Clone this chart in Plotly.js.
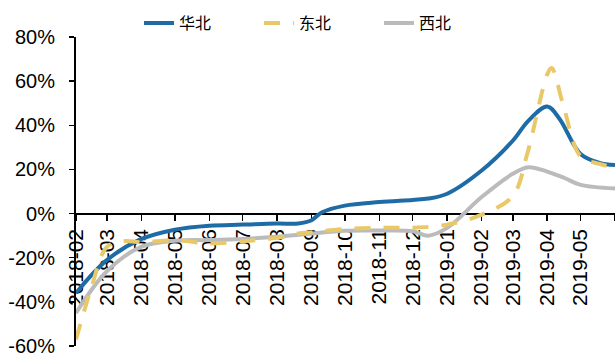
<!DOCTYPE html>
<html>
<head>
<meta charset="utf-8">
<script src="https://cdn.plot.ly/plotly-3.0.1.min.js"></script>
<style>html,body{margin:0;padding:0;background:#fff;}#chart{width:615px;height:356px;}</style>
</head>
<body>
<div id="chart"></div>
<script>
const seriesNames = ['华北', '东北', '西北'];

const northDates = ['2018-02-01','2018-03-01','2018-04-01','2018-05-01','2018-06-01','2018-07-01','2018-08-01','2018-08-20','2018-09-01','2018-09-10','2018-10-01','2018-11-01','2018-12-01','2018-12-15','2019-01-01','2019-02-01','2019-03-01','2019-03-15','2019-04-01','2019-04-12','2019-05-01','2019-05-18','2019-06-01'];
const northValues = [-36,-21,-11.5,-7.3,-5.5,-5,-4.5,-4.5,-3,0.5,3.6,5.2,6.2,6.8,9,19.5,33,42,48.5,43,27,23,22];

const northeastDates = ['2018-02-01','2018-02-14','2018-03-01','2018-03-16','2018-04-01','2018-05-01','2018-06-01','2018-07-01','2018-08-01','2018-08-20','2018-09-01','2018-10-01','2018-11-01','2018-12-01','2019-01-01','2019-02-01','2019-03-01','2019-03-14','2019-04-01','2019-04-05','2019-04-15','2019-05-01','2019-05-18','2019-06-01'];
const northeastValues = [-57,-35,-15,-12.5,-13,-12,-13.5,-12.5,-11,-9,-8.5,-7,-6.4,-6.4,-5,-0.5,8,27,63,66,50,26,22.5,21];

const northwestDates = ['2018-02-01','2018-03-01','2018-04-01','2018-05-01','2018-06-01','2018-07-01','2018-08-01','2018-09-01','2018-10-01','2018-11-01','2018-12-01','2018-12-15','2019-01-01','2019-02-01','2019-03-01','2019-03-15','2019-04-01','2019-04-17','2019-05-01','2019-06-01'];
const northwestValues = [-45,-26,-15,-12.3,-12,-11.5,-10.5,-9,-7.8,-7.7,-8,-10,-6.5,7.5,18,21,19,16,13,11.4];

const tickDates = ['2018-02-01','2018-03-01','2018-04-01','2018-05-01','2018-06-01','2018-07-01','2018-08-01','2018-09-01','2018-10-01','2018-11-01','2018-12-01','2019-01-01','2019-02-01','2019-03-01','2019-04-01','2019-05-01','2019-06-01'];
const tickLabels = ['2018-02','2018-03','2018-04','2018-05','2018-06','2018-07','2018-08','2018-09','2018-10','2018-11','2018-12','2019-01','2019-02','2019-03','2019-04','2019-05',''];

const yTickVals = [-60,-40,-20,0,20,40,60,80];
const yTickLabels = ['-60%','-40%','-20%','0%','20%','40%','60%','80%'];

const yMin = -60, yMax = 80;

const traces = [
  {x: northDates, y: northValues, name: seriesNames[0], type: 'scatter', mode: 'lines', legend: 'legend',
   line: {color: '#1F6BA6', width: 4, shape: 'spline', smoothing: 1}},
  {x: northwestDates, y: northwestValues, name: seriesNames[2], type: 'scatter', mode: 'lines', legend: 'legend3',
   line: {color: '#BBBBBB', width: 4, shape: 'spline', smoothing: 1}},
  {x: northeastDates, y: northeastValues, name: seriesNames[1], type: 'scatter', mode: 'lines', legend: 'legend2',
   line: {color: '#E8C869', width: 4, dash: '16px,13px', shape: 'spline', smoothing: 1}}
];

const legendFont = {family: 'Noto Sans CJK SC, sans-serif', size: 16, color: '#000'};
function legendAt(x) {
  return {orientation: 'h', x: x, xanchor: 'left', y: 1.045, yanchor: 'middle',
          font: legendFont, bgcolor: 'rgba(0,0,0,0)', borderwidth: 0};
}

const layout = {
  width: 615, height: 356,
  margin: {l: 76, r: 0, t: 37, b: 10},
  paper_bgcolor: '#fff', plot_bgcolor: '#fff',
  font: {family: 'Liberation Sans, Arial, sans-serif', color: '#000'},
  showlegend: true,
  legend: legendAt(0.1169),
  legend2: legendAt(0.3395),
  legend3: legendAt(0.5622),
  xaxis: {type: 'date', range: [tickDates[0], tickDates[tickDates.length-1]],
          anchor: 'free', position: (0 - yMin) / (yMax - yMin),
          tickmode: 'array', tickvals: tickDates, ticktext: tickLabels,
          tickangle: -90, ticks: 'outside', ticklen: 6, tickwidth: 1.5, tickcolor: '#000',
          showline: true, linecolor: '#000', linewidth: 2, showgrid: false, zeroline: false,
          layer: 'below traces', tickfont: {size: 21, color: '#000'}, fixedrange: true},
  yaxis: {range: [yMin, yMax], tickmode: 'array', tickvals: yTickVals, ticktext: yTickLabels,
          ticks: 'outside', ticklen: 5, tickwidth: 1.5, tickcolor: '#000',
          showline: true, linecolor: '#000', linewidth: 2, showgrid: false, zeroline: false,
          ticklabeloverflow: 'allow',
          tickfont: {size: 20, color: '#000'}, ticklabelstandoff: 10, fixedrange: true}
};

Plotly.newPlot('chart', traces, layout, {displayModeBar: false, staticPlot: true});
</script>
</body>
</html>
